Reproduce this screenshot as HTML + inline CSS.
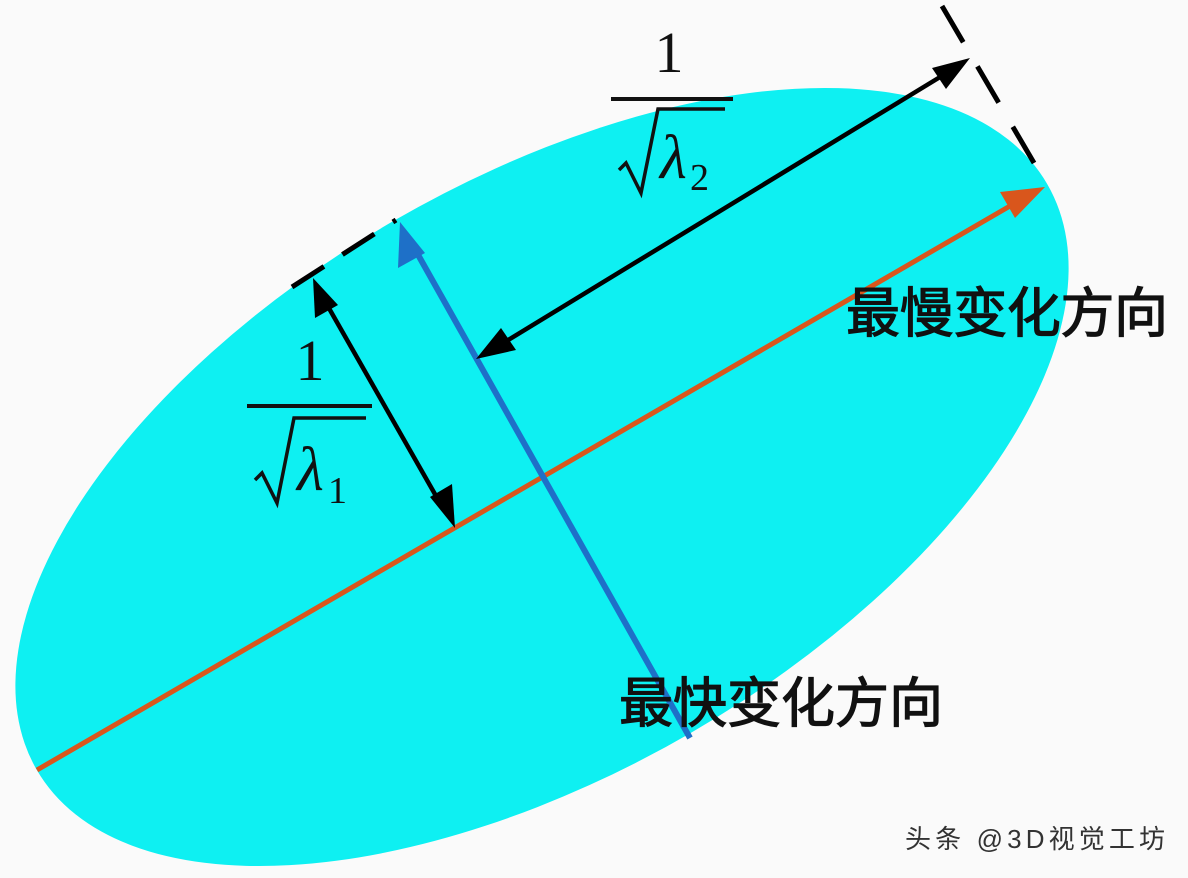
<!DOCTYPE html>
<html><head><meta charset="utf-8"><style>
html,body{margin:0;padding:0;background:#fafafa;width:1188px;height:878px;overflow:hidden}
svg{display:block;position:absolute;left:0;top:0}
</style></head><body>
<svg width="1188" height="878" viewBox="0 0 1188 878" xmlns="http://www.w3.org/2000/svg">
<rect width="1188" height="878" fill="#fafafa"/>
<ellipse cx="542" cy="477" rx="584" ry="296" transform="rotate(-30.1 542 477)" fill="#0ef0f2"/>
<line x1="37" y1="770" x2="1010" y2="206" stroke="#d9561c" stroke-width="5"/>
<path d="M1045,187 L1000,192 L1015,218 Z" fill="#d9561c"/>
<line x1="690" y1="738" x2="412" y2="244" stroke="#1e70c8" stroke-width="6"/>
<path d="M400,222 L398,268 L425,253 Z" fill="#1e70c8"/>
<line x1="292" y1="287" x2="396" y2="220" stroke="#000" stroke-width="5" stroke-dasharray="38,22"/>
<line x1="942" y1="6" x2="1044" y2="180" stroke="#000" stroke-width="5" stroke-dasharray="42,28"/>
<path d="M500,345 L945,74" stroke="#000" stroke-width="4.5" fill="none"/>
<path d="M970,58 L932,68 L946,89 Z" fill="#000"/>
<path d="M476,359 L516,350 L501,328 Z" fill="#000"/>
<path d="M322,296 L444,510" stroke="#000" stroke-width="4.5" fill="none"/>
<path d="M313,278 L315,318 L338,305 Z" fill="#000"/>
<path d="M455,528 L430,497 L452,484 Z" fill="#000"/>
<text x="669" y="72" font-family="Liberation Serif, serif" font-size="58" text-anchor="middle" fill="#111">1</text>
<line x1="611" y1="99" x2="733" y2="99" stroke="#111" stroke-width="4"/>
<path d="M619,170 L626,163 L641,193 L658,109 L725,109" stroke="#111" stroke-width="3.5" fill="none"/>
<text x="660" y="178" font-family="Liberation Serif, serif" font-style="italic" font-size="62" fill="#111">λ</text>
<text x="690" y="190" font-family="Liberation Serif, serif" font-size="38" fill="#111">2</text>
<text x="310" y="380" font-family="Liberation Serif, serif" font-size="58" text-anchor="middle" fill="#111">1</text>
<line x1="247" y1="406" x2="372" y2="406" stroke="#111" stroke-width="4"/>
<path d="M255,480 L262,473 L277,503 L294,418 L366,418" stroke="#111" stroke-width="3.5" fill="none"/>
<text x="297" y="490" font-family="Liberation Serif, serif" font-style="italic" font-size="62" fill="#111">λ</text>
<text x="328" y="503" font-family="Liberation Serif, serif" font-size="38" fill="#111">1</text>
<text x="846" y="332" font-family="Liberation Sans, Noto Sans CJK SC, sans-serif" font-size="54" fill="#111" stroke="#111" stroke-width="1.2" textLength="322">最慢变化方向</text>
<text x="619" y="722" font-family="Liberation Sans, Noto Sans CJK SC, sans-serif" font-size="54" fill="#111" stroke="#111" stroke-width="1.2" textLength="324">最快变化方向</text>
<text x="905" y="848" font-family="Liberation Sans, Noto Sans CJK SC, sans-serif" font-size="26" fill="#333" textLength="260">头条 @3D视觉工坊</text>
</svg>
</body></html>
